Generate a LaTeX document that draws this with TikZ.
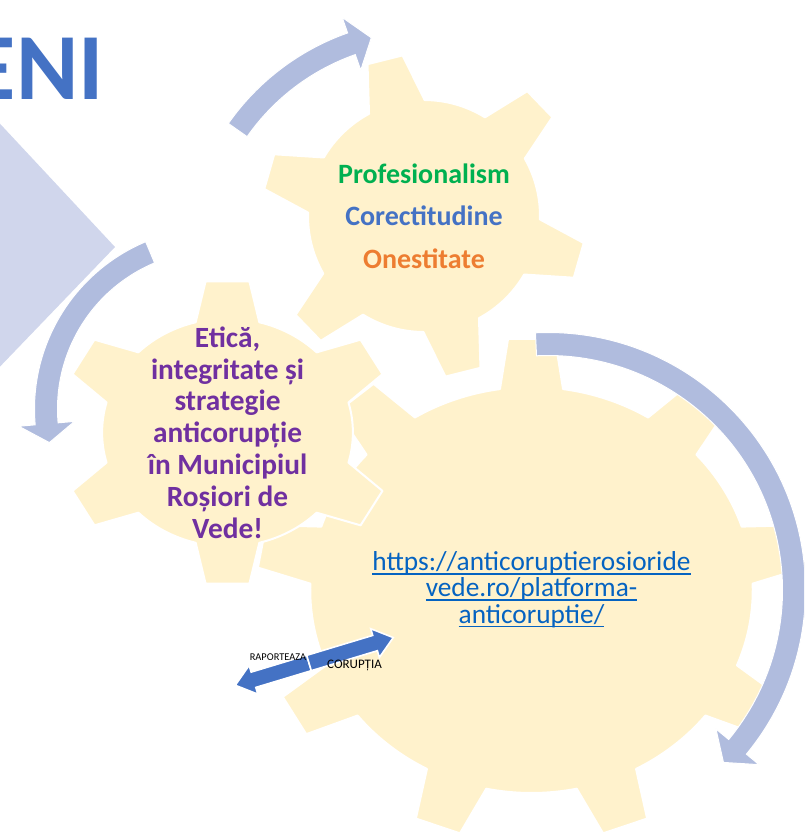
\documentclass[tikz,border=0pt]{standalone}
\usepackage{fontspec}
\setmainfont{Carlito}
\usetikzlibrary{calc}

\definecolor{cogfill}{RGB}{255,242,204}
\definecolor{turnblue}{RGB}{176,188,222}
\definecolor{paleblue}{RGB}{208,214,236}
\definecolor{titleblue}{RGB}{68,114,196}
\definecolor{virtueGreen}{RGB}{0,176,80}
\definecolor{virtueOrange}{RGB}{237,125,49}
\definecolor{ethicPurple}{RGB}{112,48,160}
\definecolor{linkBlue}{RGB}{5,99,193}

\tikzstyle{cog}=[fill=cogfill, draw=white, line width=1.5pt, line join=round]
\tikzstyle{turn arrow}=[fill=turnblue, draw=white, line width=0.75pt]
\tikzstyle{block arrow}=[fill=titleblue, draw=white, line width=1.2pt, line join=miter]
\tikzstyle{gear text}=[inner sep=0pt, align=center]

% centre, xscale, body radius, tip radius, teeth, first tooth, base half angle, tip half angle
\newcommand{\cogwheel}[8]{
  \begin{scope}[shift={#1}, xscale=#2]
    \pgfmathsetmacro{\cogstep}{360/#5}
    \path[cog] (#6+#7:#3)
      \foreach \k in {1,...,#5}{
        arc[start angle=#6+\cogstep*(\k-1)+#7, end angle=#6+\cogstep*\k-#7, radius=#3]
        -- (#6+\cogstep*\k-#8:#4) -- (#6+\cogstep*\k+#8:#4)
        -- (#6+\cogstep*\k+#7:#3)
      } -- cycle;
  \end{scope}
}

% centre, radius, tail angle, head base angle, tip angle
\newcommand{\turnarrow}[5]{
  \begin{scope}[shift={#1}]
    \pgfmathsetmacro{\turnout}{#2+11.5}
    \pgfmathsetmacro{\turnin}{#2-11.5}
    \pgfmathsetmacro{\wingout}{#2+28}
    \pgfmathsetmacro{\wingin}{#2-28}
    \path[turn arrow] (#3:\turnout) arc[start angle=#3, end angle=#4, radius=\turnout]
      -- (#4:\wingout) -- (#5:#2) -- (#4:\wingin) -- (#4:\turnin)
      arc[start angle=#4, end angle=#3, radius=\turnin] -- cycle;
  \end{scope}
}

% tail, angle, length
\newcommand{\blockarrow}[3]{
  \path[block arrow, shift={#1}, rotate=#2]
    (0,-8) -- (#3-19,-8) -- (#3-19,-15) -- (#3,0) -- (#3-19,15) -- (#3-19,8) -- (0,8) -- cycle;
}

\newcommand{\uln}[1]{\setbox0=\hbox{#1}\rlap{\rule[-3.2pt]{\wd0}{1.2pt}}\box0}

\begin{document}
\begin{tikzpicture}[x=0.75pt, y=0.75pt]
  \useasboundingbox (0,0) rectangle (804,-832);
  \clip (0,0) rectangle (804,-832);

  \coordinate (cogvalues) at (424,-216);
  \coordinate (cogethics) at (227.5,-432.5);
  \coordinate (cogportal) at (531.5,-590);

  % left part of the slide
  \fill[paleblue] (-10,-113) -- (115,-247) -- (-10,-377) -- cycle;
  \node[anchor=base east, inner sep=0pt, text=titleblue,
        font=\bfseries\fontsize{71}{71}\selectfont] (title) at (104,-99) {ENI};

  % gears
  \cogwheel{(cogportal)}{1.09}{203}{252}{9}{10}{8.2}{4.9}
  \cogwheel{(cogvalues)}{1}{116}{162}{6}{44}{14.3}{6.4}
  \cogwheel{(cogethics)}{1.1}{114}{152.5}{6}{30}{14.7}{7.5}

  % arrows round the gears
  \turnarrow{(429,-264)}{233.5}{145}{109.4}{104.3}
  \turnarrow{(216,-409)}{170}{112.8}{185}{191.4}
  \turnarrow{(548,-590)}{246}{92.8}{-39.6}{-44.5}

  \node[gear text, font=\bfseries\fontsize{21}{31.9}\selectfont] (values) at (cogvalues)
    {\textcolor{virtueGreen}{Profesionalism}\\
     \textcolor{titleblue}{Corectitudine}\\
     \textcolor{virtueOrange}{Onestitate}};
  \node[gear text, text=ethicPurple, font=\bfseries\fontsize{22}{23.85}\selectfont] (ethics)
    at (cogethics) {Etică,\\integritate și\\strategie\\anticorupție\\în Municipiul\\Roșiori de\\Vede!};
  \node[gear text, text=linkBlue, font=\fontsize{20.5}{19.7}\selectfont] (portal) at (531.5,-589.5)
    {\uln{https://anticoruptierosioride}\\\uln{vede.ro/platforma-}\\\uln{anticoruptie/}};

  % report arrows
  \coordinate (split) at (309,-663);
  \blockarrow{(split)}{196.8}{77}
  \blockarrow{(split)}{16.8}{88}
  \node[inner sep=0pt, font=\fontsize{7.8}{8}\selectfont] (report) at (278,-657) {RAPORTEAZA};
  \node[inner sep=0pt, font=\fontsize{9.75}{10}\selectfont] (corruption) at (354.5,-665) {CORUPȚIA};
\end{tikzpicture}
\end{document}
